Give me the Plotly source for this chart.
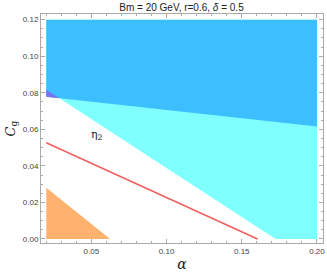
import plotly.graph_objects as go

# Region boundaries (alpha, C_g)
cyan_alpha = [0.02, 0.1725, 0.20, 0.20, 0.02]
cyan_cg = [0.0816, 0.0, 0.0, 0.12, 0.12]

blue_alpha = [0.02, 0.20, 0.20, 0.02]
blue_cg = [0.0778, 0.0615, 0.12, 0.12]

purple_alpha = [0.02, 0.0286, 0.02]
purple_cg = [0.0778, 0.0770, 0.0816]

orange_alpha = [0.02, 0.0625, 0.02]
orange_cg = [0.0, 0.0, 0.028]

red_alpha = [0.02, 0.1605]
red_cg = [0.0526, 0.0]

label_alpha = [0.0535]
label_cg = [0.057]
label_text = ["η<sub>2</sub>"]

x_ticks = [0.05, 0.10, 0.15, 0.20]
x_tick_labels = ["0.05", "0.10", "0.15", "0.20"]
y_ticks = [0.00, 0.02, 0.04, 0.06, 0.08, 0.10, 0.12]
y_tick_labels = ["0.00", "0.02", "0.04", "0.06", "0.08", "0.10", "0.12"]

fig = go.Figure()
fig.add_trace(go.Scatter(x=cyan_alpha, y=cyan_cg, fill="toself", mode="lines",
                         line=dict(width=0, color="#80ffff"), fillcolor="#80ffff", hoverinfo="skip"))
fig.add_trace(go.Scatter(x=blue_alpha, y=blue_cg, fill="toself", mode="lines",
                         line=dict(width=0, color="#3cbeff"), fillcolor="#3cbeff", hoverinfo="skip"))
fig.add_trace(go.Scatter(x=purple_alpha, y=purple_cg, fill="toself", mode="lines",
                         line=dict(width=0, color="#7a74f0"), fillcolor="#7a74f0", hoverinfo="skip"))
fig.add_trace(go.Scatter(x=orange_alpha, y=orange_cg, fill="toself", mode="lines",
                         line=dict(width=0, color="#ffb26e"), fillcolor="#ffb26e", hoverinfo="skip"))
fig.add_trace(go.Scatter(x=red_alpha, y=red_cg, mode="lines",
                         line=dict(width=1.6, color="#f06060"), hoverinfo="skip"))
fig.add_trace(go.Scatter(x=label_alpha, y=label_cg, mode="text", text=label_text,
                         textfont=dict(size=11, color="#222", family="DejaVu Serif"), hoverinfo="skip"))

axis_common = dict(
    showline=True, linecolor="#aaaaaa", linewidth=1, mirror="ticks",
    ticks="inside", ticklen=4, tickcolor="#aaaaaa", tickwidth=1,
    showgrid=False, zeroline=False, ticklabeloverflow="allow",
    tickfont=dict(size=8, color="#444", family="Liberation Sans"),
)

fig.update_layout(
    width=327, height=273,
    margin=dict(l=41, r=2, t=14, b=30),
    plot_bgcolor="white", paper_bgcolor="white",
    showlegend=False,
    title=dict(text="Bm = 20 GeV, r=0.6, <i>δ</i> = 0.5", x=0.555, xanchor="center",
               y=0.985, yanchor="top",
               font=dict(size=10, color="#222", family="Liberation Sans")),
    xaxis=dict(range=[0.0165, 0.204], tickmode="array", tickvals=x_ticks, ticktext=x_tick_labels,
               minor=dict(dtick=0.01, ticks="inside", ticklen=2, tickcolor="#aaaaaa"),
               title=dict(text="<i>α</i>", standoff=4, font=dict(size=14, color="#222", family="DejaVu Serif")),
               **axis_common),
    yaxis=dict(range=[-0.0022, 0.1231], tickmode="array", tickvals=y_ticks, ticktext=y_tick_labels,
               minor=dict(dtick=0.005, ticks="inside", ticklen=2, tickcolor="#aaaaaa"),
               title=dict(text="<i>C</i><sub>g</sub>", standoff=4, font=dict(size=13, color="#222", family="DejaVu Serif")),
               **axis_common),
)

fig.write_html("out.html", config={"displayModeBar": False},
               post_script="document.body.style.margin='0';document.body.style.overflow='hidden';")
